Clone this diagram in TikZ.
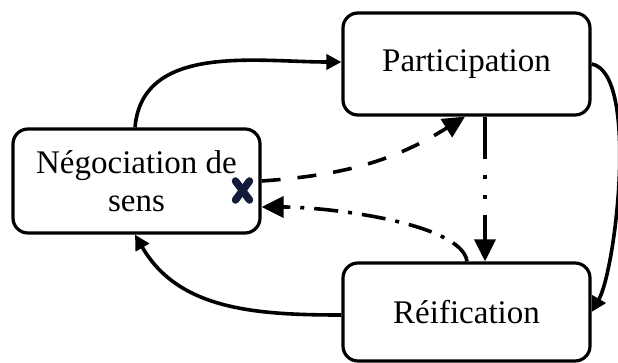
\documentclass[tikz,border=0pt]{standalone}
\usepackage{fontspec}
\setmainfont{Liberation Serif}
\usetikzlibrary{arrows.meta}
\definecolor{xnavy}{RGB}{18,28,58}
\begin{document}
\begin{tikzpicture}[x=1pt,y=-1pt,
  box/.style={draw, line width=3.2pt, rounded corners=15pt, align=center,
    inner sep=0pt, minimum width=247pt, font=\fontsize{33}{38}\selectfont},
  conn/.style={line width=3.6pt},
  smalltip/.style={-{Triangle[length=15pt,width=15pt]}},
  bigtip/.style={-{Triangle[length=22pt,width=21pt]}},
  longdash/.style={dash pattern=on 19pt off 17pt},
  dashdotdot/.style={dash pattern=on 42pt off 16pt on 4pt off 16pt on 4pt off 16pt},
  dashdotone/.style={dash pattern=on 24pt off 10pt on 4pt off 10pt},
  xmark/.style={line width=7.5pt, color=xnavy, line cap=round}]
\useasboundingbox (0,0) rectangle (618,363);
\node[box, minimum height=102pt] (P) at (466.5,64) {Participation};
\node[box, minimum height=98pt] (R) at (466.5,312) {Réification};
\node[box, minimum height=104pt] (N) at (136.5,181) {Négociation de\\sens};
% solid curved arrows
\draw[conn, smalltip] ([xshift=-1.5pt]N.north) to[out=85,in=180] ([yshift=2pt]P.west);
\draw[conn, smalltip] (P.east) to[out=-10,in=60,looseness=0.5] (R.east);
\draw[conn, smalltip] ([yshift=-3pt]R.west) to[out=180,in=-60] ([xshift=-1.5pt]N.south);
% dashed arrow N -> P
\draw[conn, longdash, bigtip] (N.east) to[out=4,in=-148] ([xshift=-1.5pt]P.south);
% dash-dot-dot vertical P -> R
\draw[conn, dashdotdot, bigtip] ([xshift=18.5pt]P.south) -- ([xshift=18.5pt]R.north);
% dash-dot arrow R -> N
\draw[conn, dashdotone, bigtip] ([xshift=0.5pt]R.north) .. controls +(-5,-38) and +(68,0) .. ([yshift=-26pt]N.east);
% cross mark
\coordinate (xc) at (242.5,190.5);
\draw[xmark] ([shift={(-7pt,9.5pt)}]xc) -- ([shift={(7pt,-9.5pt)}]xc);
\draw[xmark] ([shift={(7pt,9.5pt)}]xc) -- ([shift={(-7pt,-9.5pt)}]xc);
\end{tikzpicture}
\end{document}
